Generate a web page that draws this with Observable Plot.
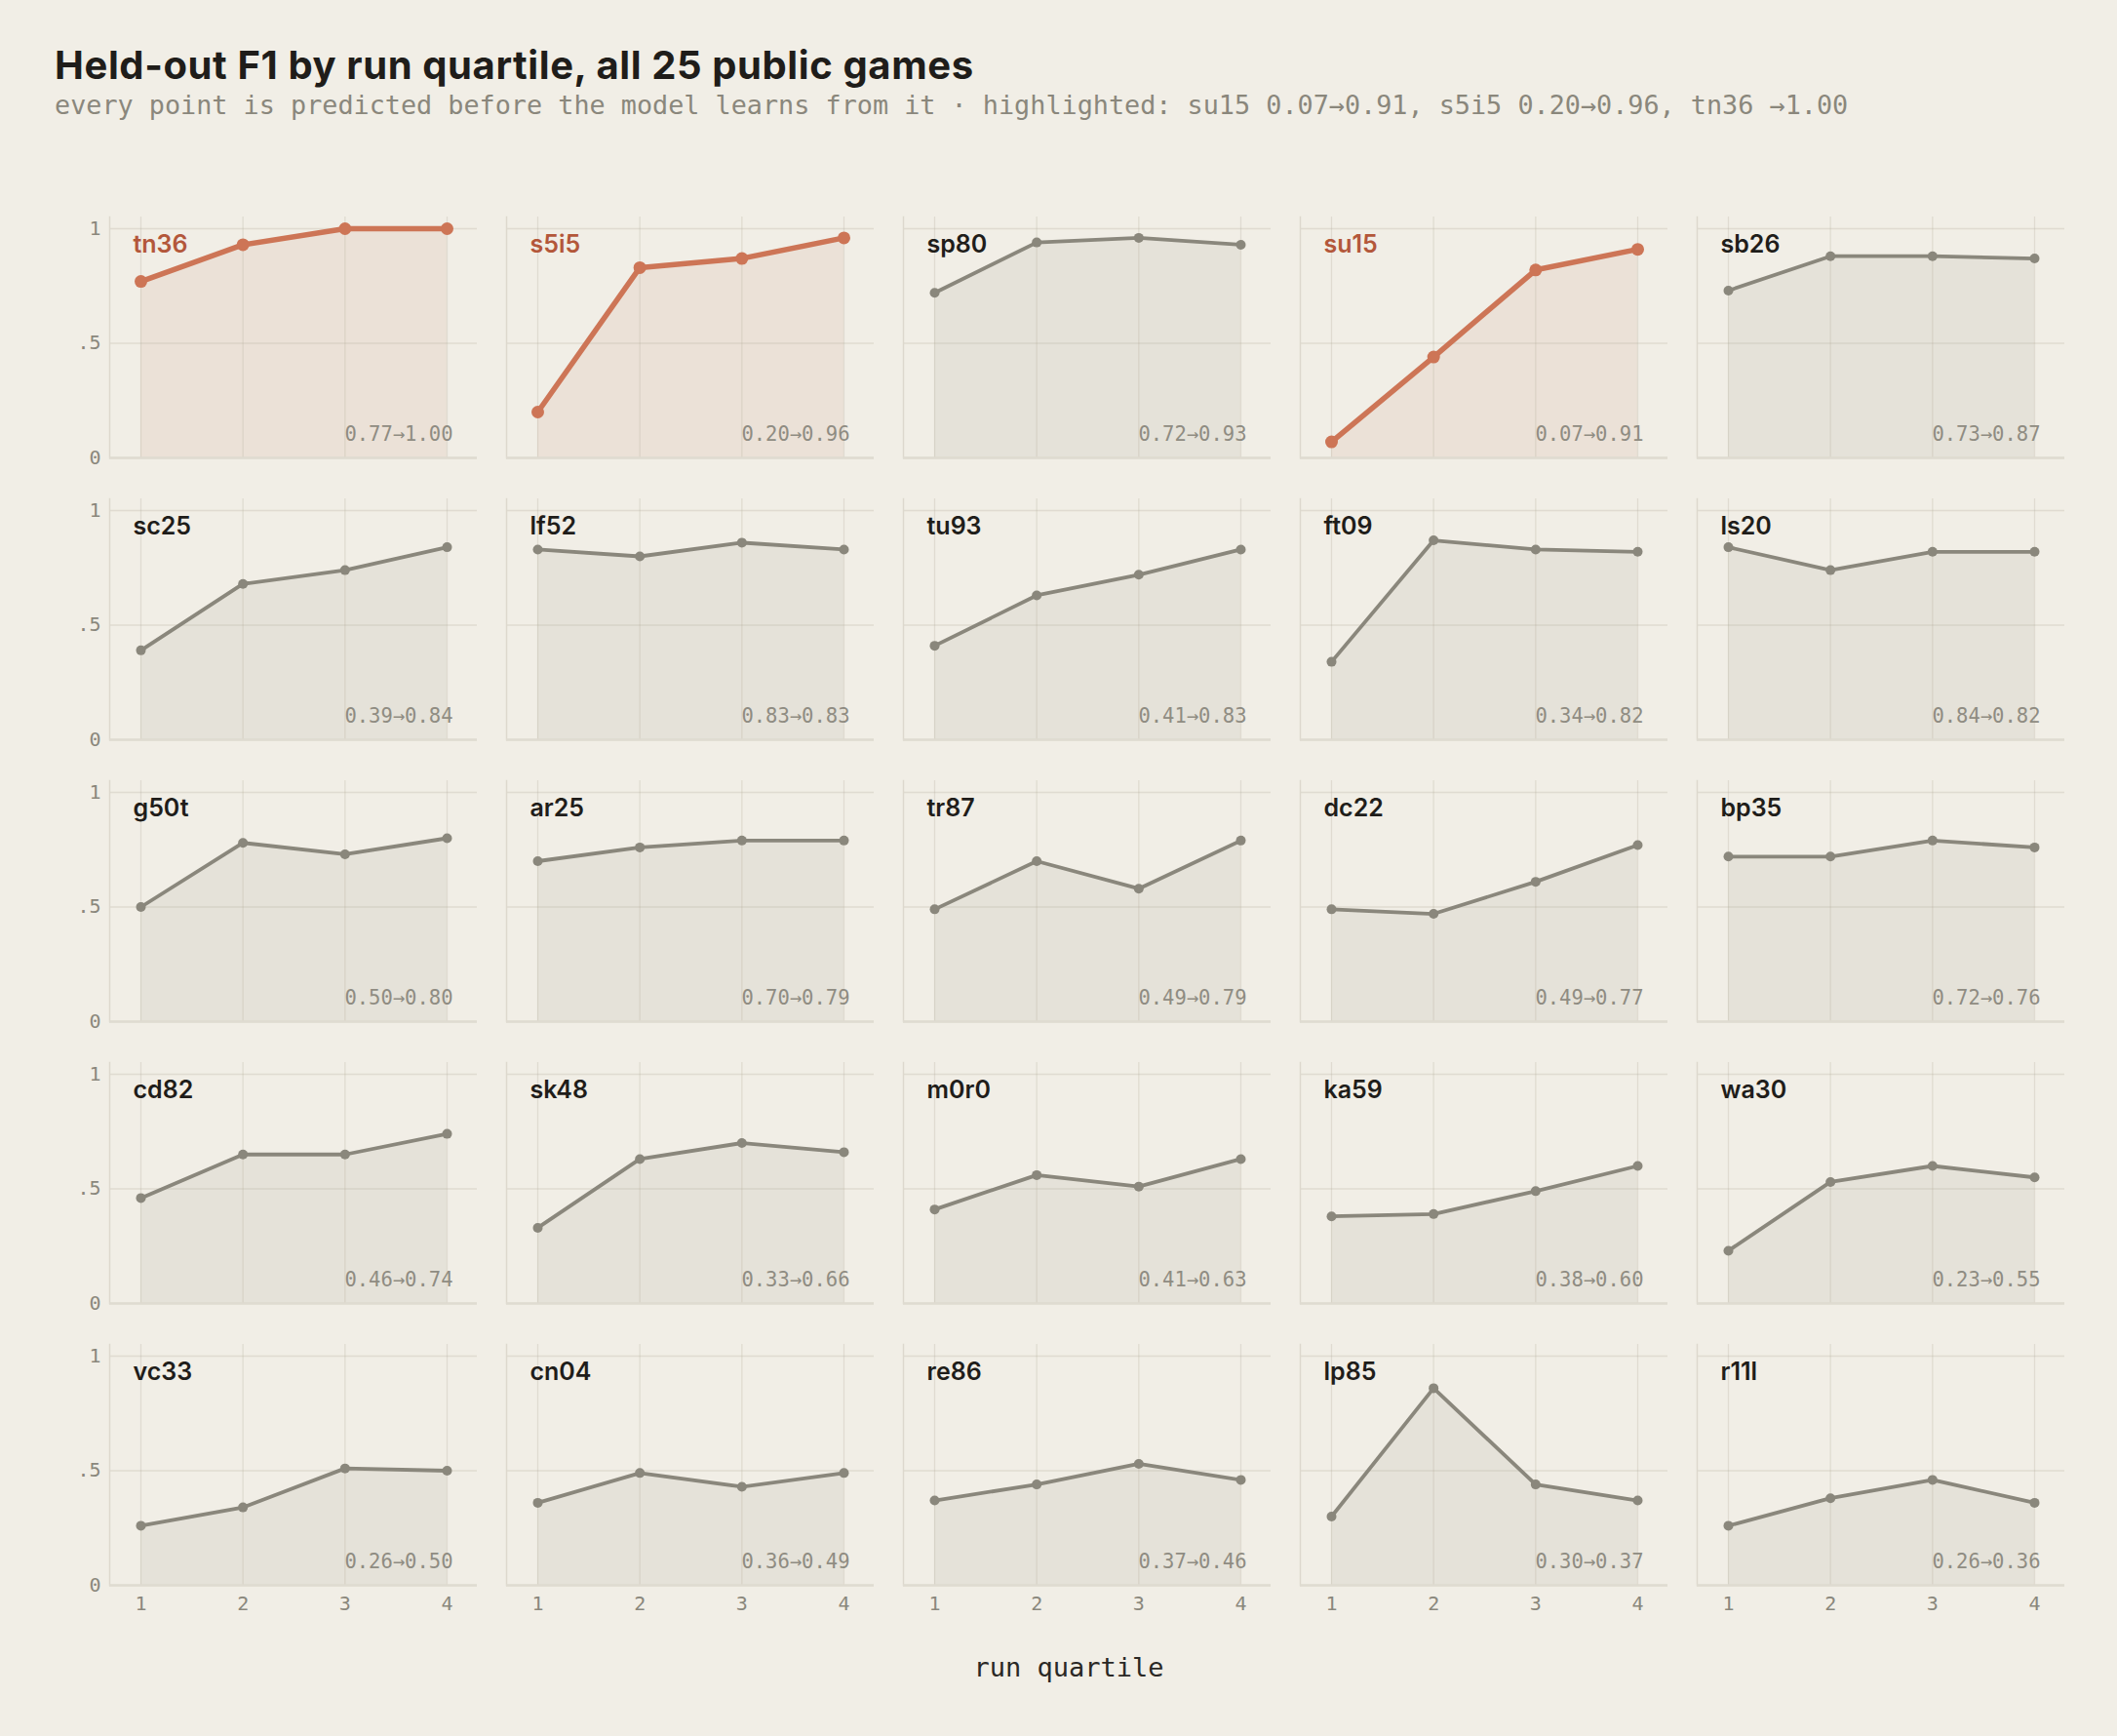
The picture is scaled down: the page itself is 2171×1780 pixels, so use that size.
<!DOCTYPE html>
<html><head><meta charset="utf-8">
<script src="https://cdn.jsdelivr.net/npm/d3@7"></script>
<script src="https://cdn.jsdelivr.net/npm/@observablehq/plot@0.6"></script>
<style>
html,body{margin:0;padding:0;background:#f1eee6;}
#wrap{position:relative;width:2171px;height:1780px;overflow:hidden;}
#title{position:absolute;left:56px;top:47px;font:700 40px/1 Inter,sans-serif;color:#1f1d1a;letter-spacing:0.6px;white-space:nowrap;margin:0;}
#subtitle{position:absolute;left:56px;top:95px;font:400 26.8px/1 "DejaVu Sans Mono",monospace;color:#8a877c;white-space:nowrap;}
#chart{position:absolute;left:0;top:150px;}
#xlabel{position:absolute;left:1096px;top:1696px;transform:translateX(-50%);font:400 27px/1 "DejaVu Sans Mono",monospace;color:#2a2825;white-space:nowrap;}
</style></head>
<body>
<div id="wrap">
  <div id="title">Held-out F1 by run quartile, all 25 public games</div>
  <div id="subtitle">every point is predicted before the model learns from it · highlighted: su15 0.07→0.91, s5i5 0.20→0.96, tn36 →1.00</div>
  <div id="chart"></div>
  <div id="xlabel">run quartile</div>
</div>
<script>
const games = ["tn36","s5i5","sp80","su15","sb26","sc25","lf52","tu93","ft09","ls20","g50t","ar25","tr87","dc22","bp35","cd82","sk48","m0r0","ka59","wa30","vc33","cn04","re86","lp85","r11l"];
const quartiles = [1, 2, 3, 4];
const q1 = [0.77,0.20,0.72,0.07,0.73, 0.39,0.83,0.41,0.34,0.84, 0.50,0.70,0.49,0.49,0.72, 0.46,0.33,0.41,0.38,0.23, 0.26,0.36,0.37,0.30,0.26];
const q2 = [0.93,0.83,0.94,0.44,0.88, 0.68,0.80,0.63,0.87,0.74, 0.78,0.76,0.70,0.47,0.72, 0.65,0.63,0.56,0.39,0.53, 0.34,0.49,0.44,0.86,0.38];
const q3 = [1.00,0.87,0.96,0.82,0.88, 0.74,0.86,0.72,0.83,0.82, 0.73,0.79,0.58,0.61,0.79, 0.65,0.70,0.51,0.49,0.60, 0.51,0.43,0.53,0.44,0.46];
const q4 = [1.00,0.96,0.93,0.91,0.87, 0.84,0.83,0.83,0.82,0.82, 0.80,0.79,0.79,0.77,0.76, 0.74,0.66,0.63,0.60,0.55, 0.50,0.49,0.46,0.37,0.36];
const highlighted = ["su15","s5i5","tn36"];
const yTicks = [0, 0.5, 1];
const yTickLabels = ["0", ".5", "1"];

const NCOL = 5;
const series = [q1, q2, q3, q4];
const points = [];
const panels = [];
games.forEach((g, i) => {
  const col = i % NCOL, row = Math.floor(i / NCOL);
  const hi = highlighted.includes(g);
  quartiles.forEach((q, k) => points.push({game: g, col, row, q, f1: series[k][i], hi}));
  panels.push({game: g, col, row, hi, range: `${q1[i].toFixed(2)}→${q4[i].toFixed(2)}`});
});
const lo = points.filter(d => !d.hi), hiPts = points.filter(d => d.hi);
const loP = panels.filter(d => !d.hi), hiP = panels.filter(d => d.hi);

const MONO = "DejaVu Sans Mono, monospace";
const GREY = "#8a877c", HI = "#cd7556";
const fc = {fx: "col", fy: "row"};

const chart = Plot.plot({
  width: 2171,
  height: 1527,
  marginLeft: 110,
  marginRight: 53,
  marginTop: 71,
  marginBottom: 50,
  style: {background: "transparent", overflow: "visible"},
  x: {domain: [1, 4], insetLeft: 32, insetRight: 31},
  y: {domain: [0, 1], insetTop: 12},
  fx: {axis: null, domain: d3.range(NCOL), paddingInner: 0.074, paddingOuter: 0},
  fy: {axis: null, domain: d3.range(5), paddingInner: 0.1436, paddingOuter: 0},
  marks: [
    Plot.areaY(lo, {...fc, x: "q", y: "f1", z: "game", fill: "#e5e2d9"}),
    Plot.areaY(hiPts, {...fc, x: "q", y: "f1", z: "game", fill: "#ebe1d7"}),
    Plot.gridX(quartiles, {stroke: "#b5ad9c", strokeOpacity: 0.28, strokeWidth: 1.3}),
    Plot.gridY(yTicks, {stroke: "#b5ad9c", strokeOpacity: 0.28, strokeWidth: 1.3}),
    Plot.frame({anchor: "left", stroke: "#ddd8cd", strokeWidth: 1.5}),
    Plot.ruleY([0], {stroke: "#dfdbd1", strokeWidth: 2.5}),
    Plot.axisX({ticks: quartiles, tickFormat: d => String(d), tickSize: 0, tickPadding: 11, fontSize: 20, fontFamily: MONO, fill: GREY, label: null}),
    Plot.axisY({ticks: yTicks, tickFormat: v => yTickLabels[yTicks.indexOf(v)], tickSize: 0, tickPadding: 9, fontSize: 20, fontFamily: MONO, fill: GREY, label: null}),
    Plot.line(lo, {...fc, x: "q", y: "f1", z: "game", stroke: GREY, strokeWidth: 3.8}),
    Plot.dot(lo, {...fc, x: "q", y: "f1", fill: GREY, r: 5}),
    Plot.line(hiPts, {...fc, x: "q", y: "f1", z: "game", stroke: HI, strokeWidth: 5.5}),
    Plot.dot(hiPts, {...fc, x: "q", y: "f1", fill: HI, r: 6.5}),
    Plot.text(loP, {...fc, text: "game", frameAnchor: "top-left", textAnchor: "start", lineAnchor: "bottom", dx: 24, dy: 36, fontSize: 25, fontWeight: 600, fontFamily: "Inter, sans-serif", fill: "#1f1d1a"}),
    Plot.text(hiP, {...fc, text: "game", frameAnchor: "top-left", textAnchor: "start", lineAnchor: "bottom", dx: 24, dy: 36, fontSize: 25, fontWeight: 600, fontFamily: "Inter, sans-serif", fill: "#b3573a"}),
    Plot.text(panels, {...fc, text: "range", frameAnchor: "bottom-right", textAnchor: "end", lineAnchor: "bottom", dx: -25, dy: -18, fontSize: 20.5, fontFamily: MONO, fill: "#8f8c82"})
  ]
});
document.getElementById("chart").appendChild(chart);
</script>
</body></html>
